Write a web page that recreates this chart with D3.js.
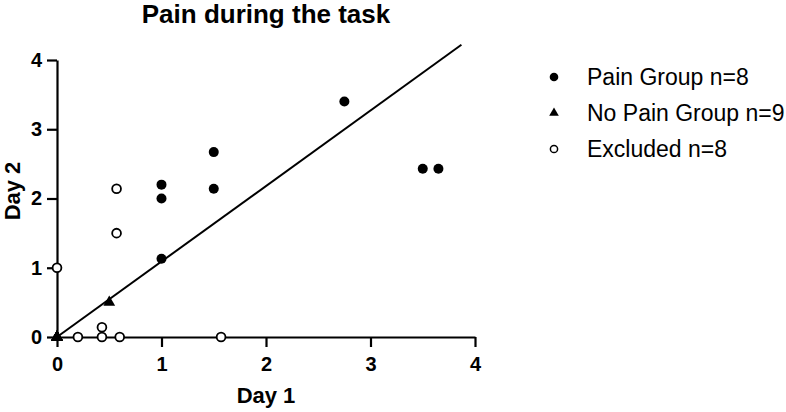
<!DOCTYPE html>
<html>
<head>
<meta charset="utf-8">
<script src="https://cdn.jsdelivr.net/npm/d3@7"></script>
<style>
  body { margin: 0; background: #fff; }
  svg { font-family: "Liberation Sans", Arial, sans-serif; }
  .tick text { font-weight: bold; font-size: 20px; fill: #000; }
  .domain, .tick line { stroke: #000; stroke-width: 2.2; }
</style>
</head>
<body>
<div id="chart"></div>
<script>
// Data_________________________________________________________
const painX = [1, 1, 1, 1.5, 1.5, 2.75, 3.5, 3.65];
const painY = [2.2, 2.0, 1.13, 2.67, 2.14, 3.4, 2.43, 2.43];

const noPainX = [0, 0, 0, 0, 0, 0, 0, 0, 0.5];
const noPainY = [0, 0, 0, 0, 0, 0, 0, 0, 0.5];

const excludedX = [0, 0.57, 0.57, 0.43, 0.43, 0.2, 0.6, 1.57];
const excludedY = [1, 2.14, 1.5, 0.14, 0, 0, 0, 0];

const lineX = [0, 3.87];
const lineY = [0, 4.22];

const tickValues = [0, 1, 2, 3, 4];
const legendLabels = ['Pain Group n=8', 'No Pain Group n=9', 'Excluded n=8'];
const legendKinds = ['filled', 'triangle', 'open'];

// Setup________________________________________________________
const width = 786;
const height = 412;

const svg = d3.select('#chart')
    .append('svg')
    .attr('width', width)
    .attr('height', height);

const x = d3.scaleLinear().domain([0, 4]).range([57, 475]);
const y = d3.scaleLinear().domain([0, 4]).range([337, 60]);

// Axes_________________________________________________________
svg.append('g')
    .attr('transform', `translate(0, ${y(0)})`)
    .call(d3.axisBottom(x).tickValues(tickValues).tickSize(10).tickSizeOuter(0).tickPadding(10).tickFormat(d3.format('d')));

svg.append('g')
    .attr('transform', `translate(${x(0)}, 0)`)
    .call(d3.axisLeft(y).tickValues(tickValues).tickSize(10).tickSizeOuter(0).tickPadding(5).tickFormat(d3.format('d')));

// Titles_______________________________________________________
svg.append('text')
    .attr('x', 266)
    .attr('y', 23)
    .attr('text-anchor', 'middle')
    .style('font-weight', 'bold')
    .style('font-size', '26px')
    .text('Pain during the task');

svg.append('text')
    .attr('x', 266)
    .attr('y', 403)
    .attr('text-anchor', 'middle')
    .style('font-weight', 'bold')
    .style('font-size', '22px')
    .text('Day 1');

svg.append('text')
    .attr('transform', 'translate(20, 191) rotate(-90)')
    .attr('text-anchor', 'middle')
    .style('font-weight', 'bold')
    .style('font-size', '22px')
    .text('Day 2');

// Line of fit__________________________________________________
svg.append('line')
    .attr('x1', x(lineX[0]))
    .attr('y1', y(lineY[0]))
    .attr('x2', x(lineX[1]))
    .attr('y2', y(lineY[1]))
    .attr('stroke', '#000')
    .attr('stroke-width', 2);

// Points_______________________________________________________
const triangle = d3.symbol().type(d3.symbolTriangle).size(60);

svg.append('g')
    .selectAll('circle')
    .data(excludedX.map((d, i) => [d, excludedY[i]]))
    .enter()
    .append('circle')
    .attr('cx', d => x(d[0]))
    .attr('cy', d => y(d[1]))
    .attr('r', 4.4)
    .attr('fill', '#fff')
    .attr('stroke', '#000')
    .attr('stroke-width', 1.8);

svg.append('g')
    .selectAll('path')
    .data(noPainX.map((d, i) => [d, noPainY[i]]))
    .enter()
    .append('path')
    .attr('d', triangle)
    .attr('transform', d => `translate(${x(d[0])}, ${y(d[1])})`)
    .attr('fill', '#000');

svg.append('g')
    .selectAll('circle')
    .data(painX.map((d, i) => [d, painY[i]]))
    .enter()
    .append('circle')
    .attr('cx', d => x(d[0]))
    .attr('cy', d => y(d[1]))
    .attr('r', 5)
    .attr('fill', '#000');

// Legend_______________________________________________________
const legendItem = svg.append('g')
    .selectAll('g')
    .data(legendLabels)
    .enter()
    .append('g')
    .attr('transform', (d, i) => `translate(554, ${77 + i * 36})`);

legendItem.each(function (d, i) {
    const g = d3.select(this);
    if (legendKinds[i] === 'filled') {
        g.append('circle').attr('r', 4.3).attr('fill', '#000');
    } else if (legendKinds[i] === 'triangle') {
        g.append('path').attr('d', d3.symbol().type(d3.symbolTriangle).size(40)).attr('fill', '#000');
    } else {
        g.append('circle').attr('r', 3.6).attr('fill', '#fff').attr('stroke', '#000').attr('stroke-width', 1.5);
    }
});

legendItem.append('text')
    .attr('x', 33)
    .attr('y', 8)
    .style('font-size', '23px')
    .text(d => d);
</script>
</body>
</html>
